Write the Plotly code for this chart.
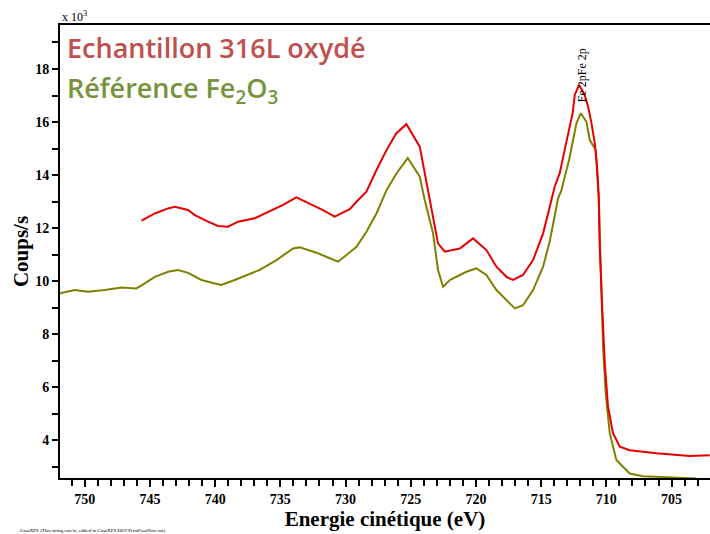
import plotly.graph_objects as go

# Echantillon 316L oxydé (red)
ech_e = [745.65, 744.63, 743.61, 743.10, 742.08, 741.56, 740.54, 739.78, 739.01, 738.24,
         736.96, 736.07, 734.79, 733.77, 732.75, 731.73, 730.83, 729.68, 729.16, 728.40,
         727.63, 726.86, 726.10, 725.33, 724.31, 723.54, 723.16, 722.91, 722.39, 721.24,
         720.22, 719.20, 718.43, 717.66, 717.16, 716.39, 715.62, 714.85, 714.34, 713.96,
         713.57, 713.34, 713.06, 712.58, 712.42, 712.09, 711.66, 711.40, 711.14, 710.89,
         710.71, 710.58, 710.51, 710.30, 710.12, 709.87, 709.49, 708.97, 708.21, 706.16,
         703.60, 702.07]
ech_v = [12.28, 12.55, 12.74, 12.80, 12.68, 12.49, 12.24, 12.08, 12.05, 12.24,
         12.37, 12.58, 12.87, 13.16, 12.93, 12.68, 12.43, 12.71, 12.99, 13.37,
         14.19, 14.94, 15.58, 15.92, 15.07, 13.06, 12.05, 11.42, 11.11, 11.23,
         11.61, 11.17, 10.54, 10.16, 10.04, 10.23, 10.79, 11.80, 12.80, 13.56,
         14.08, 14.57, 15.26, 16.34, 17.02, 17.40, 17.02, 16.58, 15.96, 15.21,
         14.31, 13.18, 11.29, 8.79, 6.91, 5.26, 4.26, 3.75, 3.62, 3.50,
         3.40, 3.43]

# Référence Fe2O3 (olive)
ref_e = [751.92, 750.77, 749.75, 748.47, 747.19, 746.04, 745.40, 744.63, 743.61, 742.85,
         742.08, 741.05, 740.03, 739.52, 738.50, 737.48, 736.58, 735.30, 734.03, 733.51,
         732.23, 731.21, 730.58, 729.93, 729.16, 728.40, 727.63, 726.86, 726.10, 725.23,
         724.31, 723.93, 723.29, 722.91, 722.52, 722.01, 720.73, 719.96, 719.20, 718.43,
         717.66, 717.02, 716.39, 715.62, 714.85, 714.34, 713.70, 713.44, 713.19, 712.86,
         712.55, 712.29, 711.96, 711.53, 711.27, 711.02, 710.81, 710.58, 710.43, 710.25,
         710.05, 709.74, 709.23, 708.21, 707.19, 704.89, 703.09]
ref_v = [9.54, 9.66, 9.60, 9.66, 9.76, 9.72, 9.91, 10.16, 10.35, 10.42,
         10.31, 10.04, 9.91, 9.85, 10.04, 10.23, 10.42, 10.79, 11.23, 11.27,
         11.07, 10.86, 10.73, 10.98, 11.29, 11.86, 12.55, 13.43, 14.06, 14.64,
         13.94, 13.06, 11.80, 10.42, 9.78, 10.04, 10.35, 10.48, 10.23, 9.66,
         9.28, 8.97, 9.09, 9.66, 10.54, 11.50, 13.12, 13.43, 13.94, 14.57,
         15.32, 15.96, 16.33, 16.01, 15.32, 15.13, 14.94, 13.06, 10.54, 7.52,
         5.77, 4.26, 3.25, 2.74, 2.64, 2.58, 2.55]

SERIF = "Liberation Serif"

fig = go.Figure()
fig.add_trace(go.Scatter(x=ref_e, y=ref_v, mode="lines",
                         line=dict(color="#808000", width=2), showlegend=False))
fig.add_trace(go.Scatter(x=ech_e, y=ech_v, mode="lines",
                         line=dict(color="#e60000", width=2), showlegend=False))

annots = [
    dict(text="Echantillon 316L oxydé", x=0.008, y=0.951, font=dict(family="Open Sans", size=27,
         color="#c0504d", weight=600)),
    dict(text="Référence Fe<sub>2</sub>O<sub>3</sub>", x=0.008, y=0.858,
         font=dict(family="Open Sans", size=27, color="#77933c", weight=600)),
    dict(text="x 10<sup>3</sup>", x=0.0, y=1.018, font=dict(family=SERIF, size=12, color="black")),
]
for a in annots:
    fig.add_annotation(xref="paper", yref="paper", xanchor="left", yanchor="middle",
                       showarrow=False, **a)

fig.add_annotation(text="Fe 2pFe 2p", x=711.9, y=17.75, xref="x", yref="y",
                   textangle=-90, showarrow=False,
                   font=dict(family=SERIF, size=12, color="black"))
fig.add_annotation(text="CasaXPS (This string can be edited in CasaXPS.DEF/PrintFootNote.txt)",
                   xref="paper", yref="paper", x=-0.065, y=-0.115, xanchor="left",
                   yanchor="middle", showarrow=False,
                   font=dict(family=SERIF, size=5, color="black"))

tickfont = dict(family=SERIF, size=14, color="black", weight="bold")
fig.update_layout(
    width=710, height=534,
    margin=dict(l=60, r=0, t=25, b=56),
    plot_bgcolor="white", paper_bgcolor="white",
    xaxis=dict(range=[751.9, 702.05], dtick=5, tick0=700, ticks="outside", ticklen=7,
               tickwidth=2, tickcolor="black", showline=True, linewidth=2,
               linecolor="black", mirror=True, showgrid=False, zeroline=False,
               tickfont=tickfont,
               minor=dict(dtick=1, ticks="outside", ticklen=6, tickwidth=2,
                          tickcolor="black", showgrid=False),
               title=dict(text="Energie cinétique (eV)", standoff=4,
                          font=dict(family=SERIF, size=21, color="black", weight="bold"))),
    yaxis=dict(range=[2.57, 19.66], dtick=2, tick0=0, ticks="outside", ticklen=6,
               tickwidth=2, tickcolor="black", showline=True, linewidth=2,
               linecolor="black", showgrid=False, zeroline=False,
               tickfont=tickfont,
               minor=dict(dtick=1, ticks="outside", ticklen=6, tickwidth=2,
                          tickcolor="black", showgrid=False),
               title=dict(text="Coups/s", standoff=1,
                          font=dict(family=SERIF, size=21, color="black", weight="bold"))),
)

fig.write_html("out.html", config={"displayModeBar": False},
               post_script="document.body.style.margin='0';")
